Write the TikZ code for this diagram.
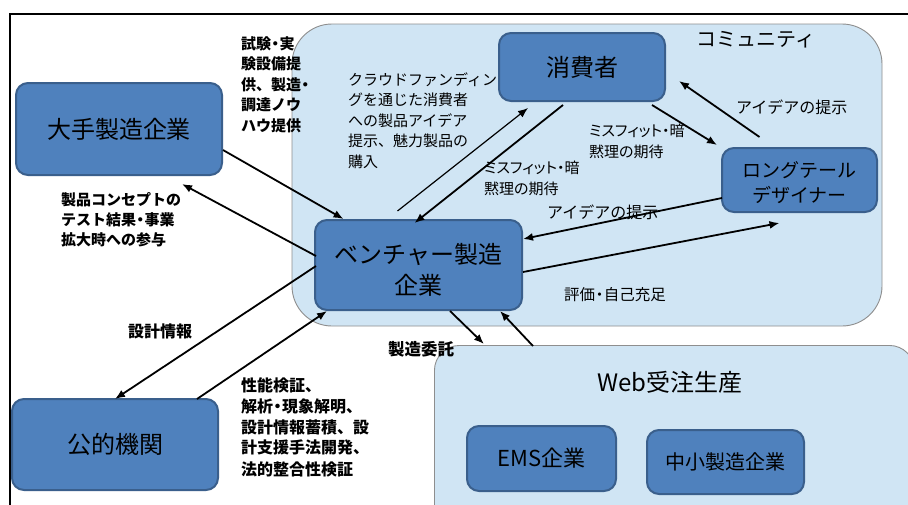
\documentclass[tikz,border=0pt]{standalone}
\usepackage{fontspec}
\setmainfont{Noto Sans CJK JP}
\newfontfamily\proplab{Noto Sans CJK JP}[RawFeature=+palt]
\usetikzlibrary{arrows.meta,calc}
\definecolor{regfill}{HTML}{D0E5F4}
\definecolor{regline}{HTML}{8E8E8E}
\definecolor{boxfill}{HTML}{4F81BD}
\definecolor{boxline}{HTML}{3A5F8C}
\newcommand{\nkd}{\kern-.22em・\kern-.22em}
\tikzset{
  regionbox/.style={draw=regline, fill=regfill, line width=0.9pt, rounded corners=40pt, inner sep=0pt},
  actor/.style={draw=boxline, fill=boxfill, line width=2pt, rounded corners=12pt, inner sep=0pt, align=center},
  actortext/.style={inner sep=0pt, align=center},
  lab/.style={anchor=north west, inner sep=0pt, align=left, font=\fontsize{15}{20.5}\selectfont},
  labb/.style={anchor=north west, inner sep=0pt, align=left, font=\fontsize{15}{20.5}\selectfont\bfseries},
  flow/.style={line width=1.8pt, -{Latex[length=10pt,width=8pt]}},
  thinflow/.style={line width=1.2pt, -{Latex[length=10pt,width=8pt]}},
}
\begin{document}
\begin{tikzpicture}[x=1pt,y=-1pt]
\clip (0,0) rectangle (908,504);
\fill[white] (0,0) rectangle (908,504);
\draw[line width=2pt] (10,520) -- (10,14) -- (920,14);
% regions
\node[regionbox, minimum width=590pt, minimum height=302pt] (comm) at (587,175) {};
\node[regionbox, rounded corners=25pt, minimum width=480pt, minimum height=200pt, anchor=north west] (web) at (434,345) {};
\node[inner sep=0pt, font=\fontsize{20}{24}\selectfont] (commlabel) at (756,40) {コミュニティ};
\node[inner sep=0pt, font=\fontsize{24}{28}\selectfont] (weblabel) at (670,382) {Web受注生産};
% actors
\node[actor, minimum width=206pt, minimum height=92pt, font=\fontsize{24}{28}\selectfont] (big) at (119,129) {\raisebox{-3pt}{大手製造企業}};
\node[actor, minimum width=166pt, minimum height=68pt, font=\fontsize{24}{28}\selectfont] (cons) at (582,67) {\raisebox{-4pt}{消費者}};
\node[actor, minimum width=155pt, minimum height=64pt] (lt) at (799.5,180) {};
\node[actortext, font=\fontsize{19}{25}\selectfont] (lttext) at ($(lt.center)+(0,2.5)$) {ロングテール\\デザイナー};
\node[actor, minimum width=207pt, minimum height=90pt] (ven) at (418.5,265) {};
\node[actortext, font=\fontsize{24}{31}\selectfont] (ventext) at ($(ven.center)+(0,4.5)$) {ベンチャー製造\\企業};
\node[actor, minimum width=206pt, minimum height=91pt, font=\fontsize{24}{28}\selectfont] (pub) at (115,444.5) {\raisebox{-4pt}{公的機関}};
\node[actor, minimum width=149pt, minimum height=65pt, font=\fontsize{22}{26}\selectfont] (ems) at (541.5,458.5) {\raisebox{-1.5pt}{EMS企業}};
\node[actor, minimum width=157pt, minimum height=64pt, font=\fontsize{20}{24}\selectfont] (sme) at (725.5,462) {\raisebox{-2pt}{中小製造企業}};
% labels
\node[labb] (l1) at (241,36) {試験\nkd 実\\験設備提\\供、製造\nkd\\調達ノウ\\ハウ提供};
\node[lab] (l2) at (348,72.5) {クラウドファンディン\\グを通じた消費者\\への製品アイデア\\提示、魅力製品の\\購入};
\node[labb, font=\fontsize{15}{19.8}\selectfont\bfseries] (l3) at (61,192.5) {製品コンセプトの\\テスト結果\nkd 事業\\拡大時への参与};
\node[lab, font=\fontsize{15}{20.5}\proplab] (l4) at (589,124) {ミスフィット・暗\\黙理の期待};
\node[lab, font=\fontsize{15}{20.5}\proplab] (l5) at (484,161) {ミスフィット・暗\\黙理の期待};
\node[lab, font=\fontsize{16}{20}\selectfont] (l6) at (736,99.5) {アイデアの提示};
\node[lab, font=\fontsize{16}{20}\selectfont] (l7) at (547,204.5) {アイデアの提示};
\node[lab, font=\fontsize{15.5}{20}\selectfont] (l8) at (564,287.5) {評価\nkd 自己充足};
\node[labb, font=\fontsize{16}{20}\selectfont\bfseries] (l9) at (128,323.5) {設計情報};
\node[labb, font=\fontsize{16.5}{20}\selectfont\bfseries] (l10) at (388,341) {製造委託};
\node[labb, font=\fontsize{16}{21}\selectfont\bfseries] (l11) at (241,377) {性能検証、\\解析\nkd 現象解明、\\設計情報蓄積、設\\計支援手法開発、\\法的整合性検証};
% connectors
\draw[flow] ($(big.east)+(0,21)$) -- ($(ven.north)+(-75,0)$);
\draw[flow] ($(ven.west)+(2,-9)$) -- ($(big.south)+(63,8)$);
\draw[thinflow] ($(ven.north)+(-21,-8)$) -- ($(cons.south)+(-54,6)$);
\draw[flow] ($(cons.south)+(-19,3)$) -- ($(ven.north)+(-4,4)$);
\draw[flow] ($(cons.south east)+(-14,3)$) -- ($(lt.north west)+(-4,-2)$);
\draw[flow] ($(lt.north)+(-40,-10)$) -- ($(cons.east)+(13,14)$);
\draw[flow] ($(lt.west)+(1,18)$) -- ($(ven.east)+(0,-26)$);
\draw[flow] ($(ven.east)+(0,7)$) -- ($(lt.south)+(-20,10)$);
\draw[flow] ($(ven.west)+(2,1)$) -- ($(pub.north)+(0,1)$);
\draw[flow] ($(pub.north)+(82,1)$) -- ($(ven.south west)+(13,0)$);
\draw[flow] ($(ven.south)+(31.5,0)$) -- ($(web.north west)+(50,-1)$);
\draw[flow] ($(web.north west)+(99,1)$) -- ($(ven.south)+(81.5,0)$);
\end{tikzpicture}
\end{document}
